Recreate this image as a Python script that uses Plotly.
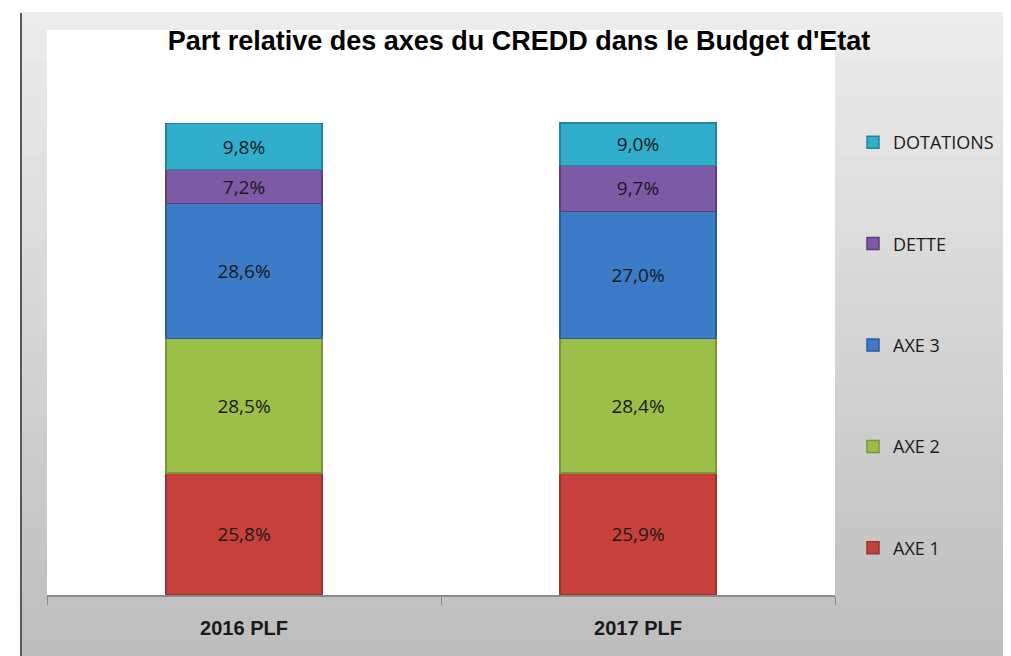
import plotly.graph_objects as go

categories = ["2016 PLF", "2017 PLF"]
series_names = ["AXE 1", "AXE 2", "AXE 3", "DETTE", "DOTATIONS"]
axe1 = [25.8, 25.9]
axe2 = [28.5, 28.4]
axe3 = [28.6, 27.0]
dette = [7.2, 9.7]
dotations = [9.8, 9.0]

series_values = [axe1, axe2, axe3, dette, dotations]
colors = ["#c8403c", "#9cbf4a", "#3c7bc8", "#7c5aa5", "#30aecb"]
edge_colors = ["#9a3331", "#7a9638", "#2d5e9c", "#5c4180", "#23869e"]

# page body has an 8px margin, so everything is laid out in screen px minus 8
OFF = 8
W, H = 1011 - OFF, 656 - OFF
L, R, T, B = 47 - OFF, 835 - OFF, 30 - OFF, 595 - OFF


def px_x(x):
    return (x - OFF - L) / (R - L)


def px_y(y):
    return (B - (y - OFF)) / (B - T)


fig = go.Figure()
for i, (name, vals, col, edge) in enumerate(zip(series_names, series_values, colors, edge_colors)):
    fig.add_trace(go.Bar(
        x=categories, y=vals, name=name, legendgroup=name,
        legendrank=100 - i,  # legend lists the top segment first
        marker=dict(color=col, line=dict(color=edge, width=1.5)),
        texttemplate="%{y:.1f}%", textposition="inside", insidetextanchor="middle",
        textfont=dict(family="Open Sans, Lato, sans-serif", size=19, color="#1a1a1a"),
        hovertemplate="%{x}<br>" + name + ": %{y:.1f}%<extra></extra>",
    ))

# gradient background of the chart area (grey, lighter on top)
shapes = []
n = 40
y_top, y_bot = 12, 656
top_rgb, bot_rgb = (236, 236, 236), (190, 190, 190)
for i in range(n):
    f = i / (n - 1)
    c = tuple(round(a + (b - a) * f) for a, b in zip(top_rgb, bot_rgb))
    y0 = y_top + (y_bot - y_top) * i / n
    y1 = y_top + (y_bot - y_top) * (i + 1) / n + 1
    shapes.append(dict(
        type="rect", xref="paper", yref="paper", layer="below",
        x0=px_x(22), x1=px_x(1015), y0=px_y(y1), y1=px_y(y0),
        fillcolor="rgb(%d,%d,%d)" % c, line=dict(width=0),
    ))
shapes.append(dict(
    type="rect", xref="paper", yref="paper", layer="below",
    x0=0, x1=1, y0=0, y1=1, fillcolor="white", line=dict(width=0),
))
shapes.append(dict(
    type="line", xref="paper", yref="paper",
    x0=px_x(21), x1=px_x(21), y0=px_y(656), y1=px_y(13),
    line=dict(color="#5a5a50", width=2),
))

fig.update_layout(
    width=W, height=H,
    margin=dict(l=L, r=W - R, t=T, b=H - B),
    paper_bgcolor="white", plot_bgcolor="rgba(0,0,0,0)",
    barmode="stack", bargap=0.604,
    separators=", ",
    shapes=shapes,
    title=dict(
        text="<b>Part relative des axes du CREDD dans le Budget d'Etat</b>",
        x=(519 - OFF) / W, xanchor="center", y=1 - (41 - OFF) / H, yanchor="middle",
        font=dict(family="Liberation Sans, Arial, sans-serif", size=27, color="black"),
    ),
    legend=dict(
        x=px_x(853), xanchor="left", y=px_y(124), yanchor="top",
        traceorder="grouped", tracegroupgap=75,
        font=dict(family="Open Sans, Lato, sans-serif", size=18, color="#1a1a1a"),
        bgcolor="rgba(0,0,0,0)", itemwidth=30,
    ),
    xaxis=dict(
        showline=True, linecolor="#8a8a8a", linewidth=1.5,
        ticks="outside", tickson="boundaries", ticklen=8, tickcolor="#8a8a8a",
        ticklabelstandoff=14,
        tickfont=dict(family="Liberation Sans, Arial, sans-serif", size=20, color="#1a1a1a"),
        showgrid=False,
    ),
    yaxis=dict(range=[0, 119.7], visible=False, showgrid=False, zeroline=False),
)
fig.update_xaxes(ticktext=["<b>%s</b>" % c for c in categories], tickvals=categories)

fig.write_html("out.html")
